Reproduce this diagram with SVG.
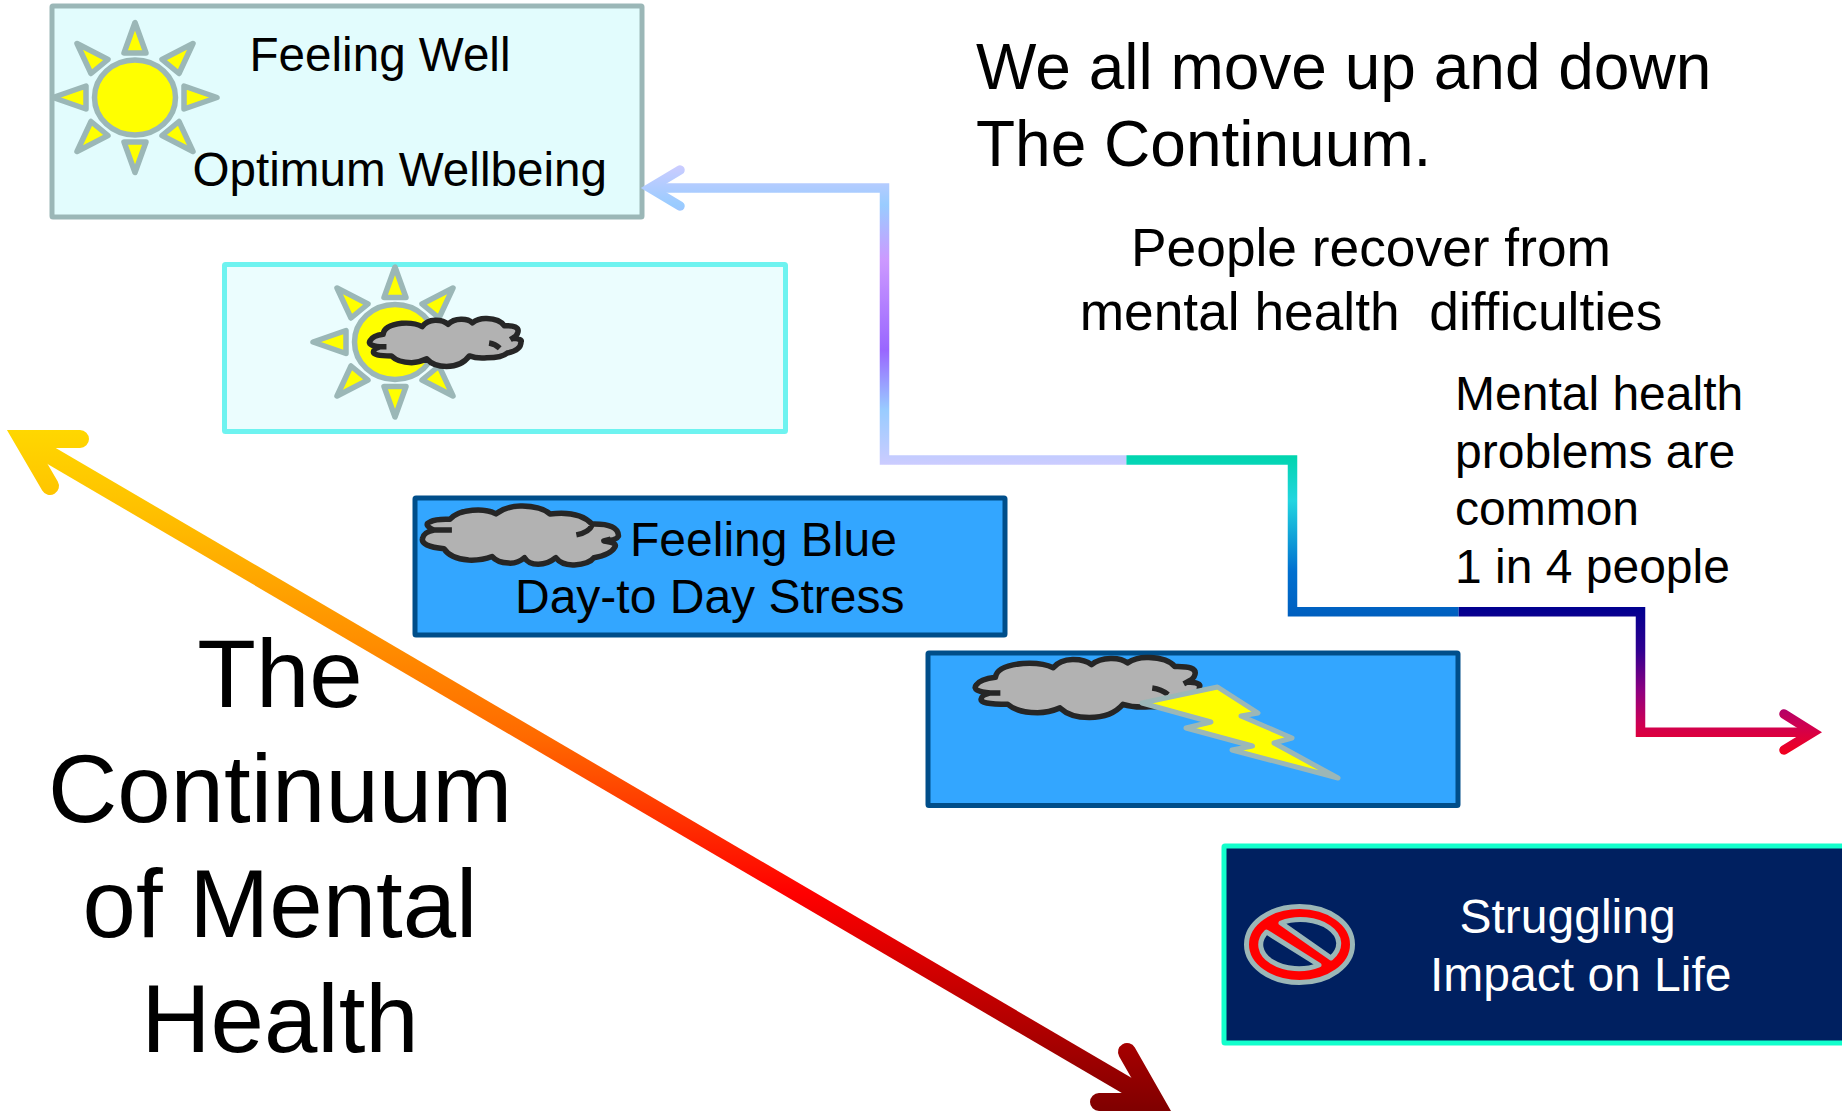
<svg xmlns="http://www.w3.org/2000/svg" xmlns:xlink="http://www.w3.org/1999/xlink" width="1842" height="1111" viewBox="0 0 1842 1111">
<style>
text{font-family:"Liberation Sans",Arial,sans-serif;fill:#000;white-space:pre}
.box{stroke-width:5}
.t50{font-size:48px}
.t48{font-size:47.6px}
.t56{font-size:53.300px}
.t64{font-size:64px}
.t96{font-size:96px}
.mid{text-anchor:middle}
.sunpart{fill:#ff0;stroke:#9bb7b7;stroke-width:5.500;stroke-linejoin:round}
.cl{fill:#b2b2b2;stroke:none}
.cs{fill:none;stroke:#262626;stroke-width:5.500;vector-effect:non-scaling-stroke;stroke-linejoin:round}
.conn{fill:none;stroke-width:9.500;stroke-linecap:round;stroke-miterlimit:10}
.big{fill:none;stroke:url(#gBig);stroke-width:18;stroke-miterlimit:10}
</style>
<defs>
<linearGradient id="gBig" gradientUnits="userSpaceOnUse" x1="0" y1="430" x2="0" y2="1111">
<stop offset="0" stop-color="#ffd700"/><stop offset="0.12" stop-color="#ffc000"/><stop offset="0.45" stop-color="#ff6a00"/><stop offset="0.68" stop-color="#ff0000"/><stop offset="1" stop-color="#7f0000"/>
</linearGradient>
<linearGradient id="gC1" gradientUnits="userSpaceOnUse" x1="0" y1="165" x2="0" y2="465">
<stop offset="0" stop-color="#ccccff"/><stop offset="0.133" stop-color="#99ccff"/><stop offset="0.317" stop-color="#cc99ff"/><stop offset="0.617" stop-color="#9966ff"/><stop offset="0.817" stop-color="#99ccff"/><stop offset="1" stop-color="#ccccff"/>
</linearGradient>
<linearGradient id="gC2" gradientUnits="userSpaceOnUse" x1="0" y1="456" x2="0" y2="616">
<stop offset="0" stop-color="#00d5ae"/><stop offset="0.28" stop-color="#22d5e0"/><stop offset="0.72" stop-color="#0070d0"/><stop offset="1" stop-color="#005fbf"/>
</linearGradient>
<linearGradient id="gC3" gradientUnits="userSpaceOnUse" x1="0" y1="607" x2="0" y2="752">
<stop offset="0" stop-color="#00008f"/><stop offset="0.3" stop-color="#300090"/><stop offset="0.58" stop-color="#8f0080"/><stop offset="0.8" stop-color="#cc0055"/><stop offset="1" stop-color="#f00020"/>
</linearGradient>
<g id="sun">
<ellipse cx="0" cy="0" rx="40.500" ry="37.500" class="sunpart"/>
<path class="sunpart" d="M0,-75 L-11,-44.500 H11 Z"/>
<path class="sunpart" d="M0,75 L-11,44.500 H11 Z"/>
<path class="sunpart" d="M-82,0 L-49,-11.500 V11.500 Z"/>
<path class="sunpart" d="M82,0 L49,-11.500 V11.500 Z"/>
<path class="sunpart" d="M58,-54 L27,-38 L44,-24 Z"/>
<path class="sunpart" d="M-58,-54 L-27,-38 L-44,-24 Z"/>
<path class="sunpart" d="M58,54 L27,38 L44,24 Z"/>
<path class="sunpart" d="M-58,54 L-27,38 L-44,24 Z"/>
</g>
<g id="cloudA">
<path class="cl" d="M14,59 Q-3,56 1.500,46 Q5,36 18.600,33 Q20,14 43,10 Q60,8 70,17 Q76,4 87,3.500 Q98,3 104,12 Q110,2 121,1.500 Q131,1 136,9 Q144,-1 155,0 Q172,1 178,15 Q198,14 196,28 Q195,36 189,41 Q202,42 200,49 Q200,66 182,72 Q175,82 155,82 Q142,84 132,78 Q122,100 102,100 Q85,100 76,84 Q66,92 56,92 Q38,92 29.500,78 Q4,78 6,69 Q6,63 14,59 Z"/>
<path class="cs" d="M14,59 Q-3,56 1.500,46 Q5,36 18.600,33 Q20,14 43,10 Q60,8 70,17 Q76,4 87,3.500 Q98,3 104,12 Q110,2 121,1.500 Q131,1 136,9 Q144,-1 155,0 Q172,1 178,15 Q198,14 196,28 Q195,36 189,41 Q202,42 200,49 Q200,66 182,72 Q175,82 155,82 Q142,84 132,78 Q122,100 102,100 Q85,100 76,84 Q66,92 56,92 Q38,92 29.500,78 Q4,78 6,69 Q6,63 14,59 Z M6,59 H23 M158,51 Q166,53 172,62 M186,44 L192,38"/>
</g>
<g id="cloudB">
<path class="cl" d="M22,72 Q-2,68 0,55 Q1,44 12,41 Q0,32 8,27 Q14,22 28,23 Q35,10 51,8 Q66,6 75,14 Q86,0 102,1 Q122,2 130,14 Q160,8 173,31 Q200,30 200,51 Q198,58 185,59 Q200,62 196,70 Q192,82 175,87 Q170,98 155,99 Q142,100 136,87 Q128,98 118,98 Q108,98 104,87 Q97,97 88,96 Q76,95 71,85 Q60,92 47,91 Q28,88 22,72 Z"/>
<path class="cs" d="M22,72 Q-2,68 0,55 Q1,44 12,41 Q0,32 8,27 Q14,22 28,23 Q35,10 51,8 Q66,6 75,14 Q86,0 102,1 Q122,2 130,14 Q160,8 173,31 Q200,30 200,51 Q198,58 185,59 Q200,62 196,70 Q192,82 175,87 Q170,98 155,99 Q142,100 136,87 Q128,98 118,98 Q108,98 104,87 Q97,97 88,96 Q76,95 71,85 Q60,92 47,91 Q28,88 22,72 Z M12,41 H30 M157,49 Q170,45 173,33 M185,59 L192,56"/>
</g>
</defs>
<rect width="1842" height="1111" fill="#fff"/>

<g id="node-feeling-well">
<rect class="box" x="52" y="6" width="590" height="211" rx="1" fill="#e2fcfd" stroke="#9bb7b7"/>
<use xlink:href="#sun" href="#sun" transform="translate(135,97.500)"/>
<text class="t48" x="249.500" y="71">Feeling Well</text>
<text class="t48" x="192.500" y="186">Optimum Wellbeing</text>
</g>

<g id="node-sun-cloud">
<rect class="box" x="224.500" y="264.500" width="561" height="167" rx="1" fill="#ebfdfe" stroke="#6ef3f0"/>
<use xlink:href="#sun" href="#sun" transform="translate(395,342)"/>
<use xlink:href="#cloudA" href="#cloudA" transform="translate(369,318.500) scale(0.76,0.48)"/>
</g>

<g id="node-feeling-blue">
<rect class="box" x="415" y="498" width="590" height="137" rx="1" fill="#33a6ff" stroke="#004e8a"/>
<use xlink:href="#cloudB" href="#cloudB" transform="translate(422.500,505.500) scale(0.98,0.6)"/>
<text class="t50" x="630" y="555.500">Feeling Blue</text>
<text class="t50" x="515" y="612.500">Day-to Day Stress</text>
</g>

<g id="node-storm">
<rect class="box" x="928" y="653" width="530" height="152.500" rx="1" fill="#33a6ff" stroke="#004e8a"/>
<use xlink:href="#cloudA" href="#cloudA" transform="translate(974.500,657.500) scale(1.125,0.6)"/>
<path d="M1142,703 L1217.500,687 L1258,713 L1241,716 L1292,738 L1274,743 L1338,778 L1232,750 L1252.500,746 L1186,728 L1211,722 Z" fill="#ff0" stroke="#9bb7b7" stroke-width="5" stroke-linejoin="round"/>
</g>

<g id="node-struggling">
<rect x="1224" y="846" width="630" height="197" rx="1" fill="#002060" stroke="#12ffcc" stroke-width="5"/>
<ellipse cx="1299.500" cy="944.500" rx="53" ry="38" fill="#f00" stroke="#9bb7b7" stroke-width="5"/>
<path d="M1281,923 A38 24 0 0 1 1331,958 Z M1266.500,932 A38 24 0 0 0 1319,965 Z" fill="#002060" stroke="#9bb7b7" stroke-width="5" stroke-linejoin="round"/>
<text class="t50" x="1459.500" y="932.500" style="fill:#fff">Struggling</text>
<text class="t50" x="1430" y="990.500" style="fill:#fff">Impact on Life</text>
</g>

<g id="connectors">
<path class="big" d="M22.600,439 L1155,1102"/>
<path class="big" style="stroke-linecap:round" d="M80,439 H22.600 L50,486"/>
<path class="big" style="stroke-linecap:round" d="M1127,1052 L1155.500,1102 H1099"/>
<path class="conn" stroke="url(#gC1)" style="stroke-linecap:butt" d="M1126.400,460 H884.500 V188 H650"/>
<path class="conn" stroke="url(#gC1)" d="M680,170 L650,188 L680,206"/>
<path class="conn" stroke="url(#gC2)" style="stroke-linecap:butt" d="M1126.400,460 H1292.500 V611.700 H1458.700"/>
<path class="conn" stroke="url(#gC3)" style="stroke-linecap:butt" d="M1458.700,611.700 H1640.500 V732.300 H1812"/>
<path class="conn" stroke="url(#gC3)" d="M1784,714 L1813,732.300 L1784,750"/>
</g>

<g id="captions">
<text class="t64" x="976" y="89">We all move up and down</text>
<text class="t64" x="976" y="166">The Continuum.</text>
<text class="t56 mid" x="1371" y="266">People recover from</text>
<text class="t56 mid" x="1371" y="330">mental health  difficulties</text>
<text class="t50" x="1455" y="410">Mental health</text>
<text class="t50" x="1455" y="468">problems are</text>
<text class="t50" x="1455" y="525">common</text>
<text class="t50" x="1455" y="583">1 in 4 people</text>
<text class="t96 mid" x="280" y="707">The</text>
<text class="t96 mid" x="280" y="822">Continuum</text>
<text class="t96 mid" x="280" y="937">of Mental</text>
<text class="t96 mid" x="280" y="1052">Health</text>
</g>
</svg>
